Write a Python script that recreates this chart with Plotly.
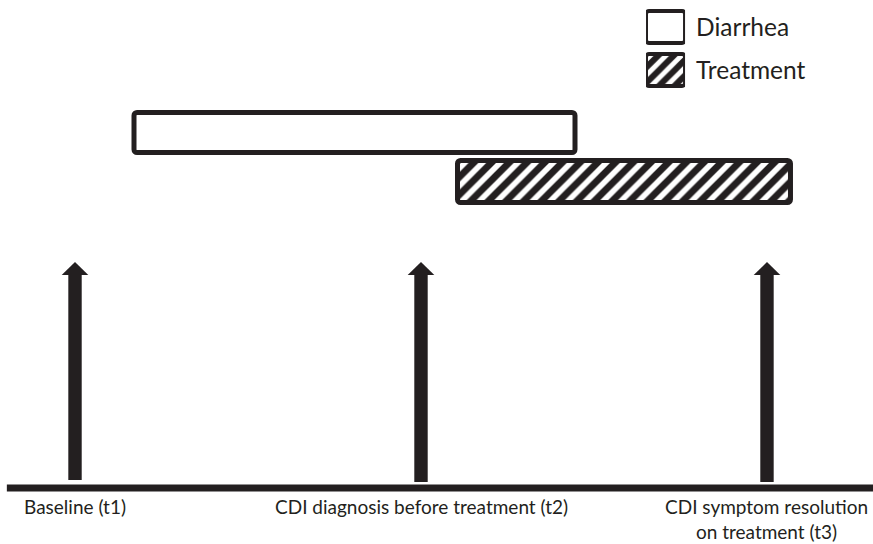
import plotly.graph_objects as go

# ---- data ----
timepoints = [1, 2, 3]
timepoint_labels = [
    "Baseline (t1)",
    "CDI diagnosis before treatment (t2)",
    "CDI symptom resolution<br>on treatment (t3)",
]
arrow_tops = [226, 226, 226]
arrow_bottoms = [8, 6, 6]

periods = ["Diarrhea", "Treatment"]
period_start = [1.1705, 2.1055]
period_end = [2.4451, 3.0679]
period_level = [355.5, 306.5]
period_patterns = ["", "/"]

timeline_start = 0.803
timeline_end = 3.31

# ---- style ----
W, H = 873, 544
INK = "#231f20"
FONT = "Lato"

fig = go.Figure()

fig.add_trace(go.Bar(
    orientation="h",
    y=period_level,
    x=[e - s for s, e in zip(period_start, period_end)],
    base=period_start,
    width=[40, 42],
    marker=dict(
        color="white",
        line=dict(color=INK, width=5),
        pattern=dict(shape=period_patterns, fgcolor=INK, bgcolor="white",
                     size=12.5, solidity=0.55, fgopacity=1),
    ),
    xaxis="x", yaxis="y", hoverinfo="skip", showlegend=False,
))

# legend keys
fig.add_trace(go.Bar(
    orientation="h",
    y=periods,
    x=[1, 1],
    base=[0, 0],
    width=0.744,
    marker=dict(
        color="white",
        line=dict(color=INK, width=4),
        pattern=dict(shape=period_patterns, fgcolor=INK, bgcolor="white",
                     size=11, solidity=0.55, fgopacity=1),
    ),
    xaxis="x2", yaxis="y2", hoverinfo="skip", showlegend=False,
))

shapes = [dict(type="line", xref="x", yref="y", x0=timeline_start, x1=timeline_end,
               y0=0, y1=0, line=dict(color=INK, width=7))]
annotations = []
for t, top, bot, lab in zip(timepoints, arrow_tops, arrow_bottoms, timepoint_labels):
    head = 13
    shapes.append(dict(type="rect", xref="x", yref="y", xsizemode="pixel", xanchor=t,
                       x0=-6.7, x1=6.7, y0=bot, y1=top - head,
                       fillcolor=INK, line=dict(width=0)))
    shapes.append(dict(type="path", xref="x", yref="y", xsizemode="pixel", xanchor=t,
                       path=f"M -13.3,{top - head} L 13.3,{top - head} L 0,{top} Z",
                       fillcolor=INK, line=dict(width=0)))
    annotations.append(dict(x=t, y=0, xref="x", yref="y", text=lab, showarrow=False,
                            yanchor="top", xanchor="center", align="center", yshift=-5,
                            font=dict(family=FONT, size=19, color=INK)))

fig.update_layout(
    width=W, height=H,
    margin=dict(l=0, r=0, t=0, b=0),
    paper_bgcolor="white", plot_bgcolor="white",
    barmode="overlay",
    barcornerradius=3,
    xaxis=dict(range=[0.7832, 3.3064], visible=False, fixedrange=True),
    yaxis=dict(range=[-56, 488], visible=False, fixedrange=True),
    xaxis2=dict(domain=[0.7400, 0.7847], range=[0, 1], visible=False, anchor="y2"),
    yaxis2=dict(domain=[0.8318, 0.9899], range=[1.5, -0.5], anchor="x2", side="right",
                showgrid=False, zeroline=False, showline=False, ticks="",
                ticklabelstandoff=10,
                tickfont=dict(family=FONT, size=24.5, color=INK)),
    shapes=shapes,
    annotations=annotations,
    showlegend=False,
)

fig.write_html(
    "out.html",
    config={"displayModeBar": False},
    post_script="document.body.style.margin='0';document.body.style.overflow='hidden';",
)
